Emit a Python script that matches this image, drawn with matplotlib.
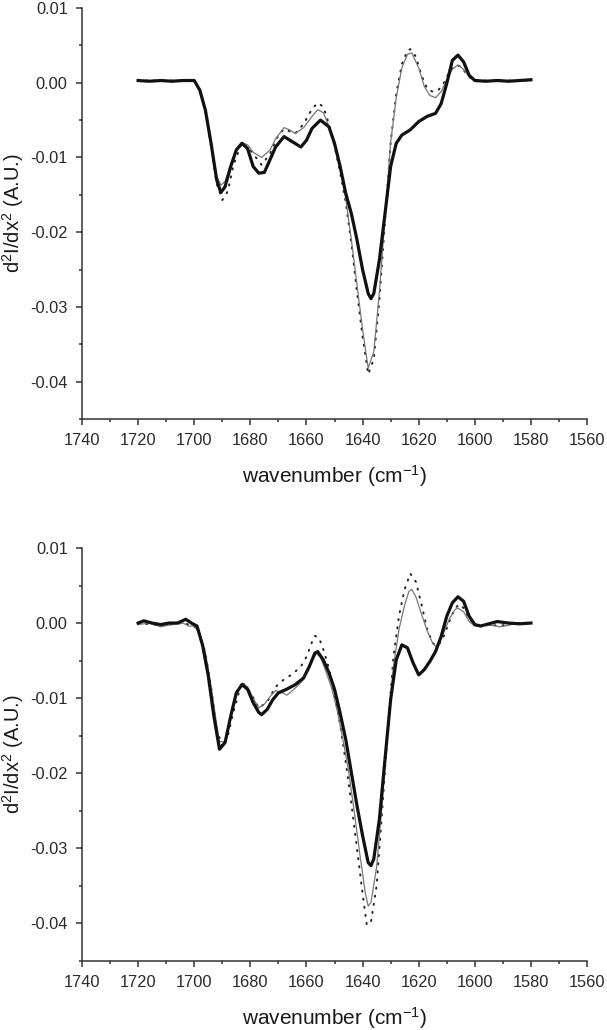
import matplotlib
matplotlib.use("Agg")
import matplotlib.pyplot as plt
from matplotlib.ticker import MultipleLocator, FormatStrFormatter

plt.rcParams['font.family'] = ['Liberation Sans', 'DejaVu Sans']
plt.rcParams['mathtext.default'] = 'regular'
plt.rcParams['axes.unicode_minus'] = False

# ---- top panel data (wavenumber, d2I/dx2) ----
top_thick_x = [1720, 1716, 1712, 1708, 1704, 1700, 1698, 1696, 1694, 1692, 1690.5, 1689, 1687, 1685,
               1683, 1681, 1679, 1677, 1675, 1673, 1671, 1668, 1665, 1662, 1660, 1658, 1655, 1652,
               1650, 1648, 1646, 1644, 1642, 1640, 1638, 1637, 1636, 1634, 1632, 1630, 1628, 1626,
               1623, 1620, 1617, 1614, 1612, 1610, 1608, 1606, 1604, 1602, 1600, 1596, 1592, 1588,
               1584, 1580]
top_thick_y = [0.0003, 0.0002, 0.0003, 0.0002, 0.0003, 0.0003, -0.001, -0.0037, -0.0081, -0.013,
               -0.0147, -0.0139, -0.0112, -0.009, -0.0081, -0.0088, -0.0112, -0.0121, -0.012,
               -0.0103, -0.0086, -0.0072, -0.0079, -0.0086, -0.0077, -0.0061, -0.005, -0.0059,
               -0.0081, -0.0112, -0.0148, -0.0175, -0.021, -0.025, -0.0282, -0.0289, -0.0282,
               -0.0237, -0.0175, -0.0112, -0.0081, -0.007, -0.0063, -0.0052, -0.0045, -0.0041,
               -0.0028, -0.0001, 0.003, 0.0037, 0.0028, 0.001, 0.0003, 0.0002, 0.0003, 0.0002,
               0.0003, 0.0004]

top_thin_x = [1720, 1700, 1698, 1696, 1694, 1692, 1690.5, 1689, 1687, 1685, 1683, 1681, 1679, 1676,
              1673, 1671, 1668, 1666, 1664, 1661, 1658, 1656, 1654, 1652, 1650, 1648, 1646, 1644,
              1642, 1640, 1638, 1636, 1634, 1632, 1630, 1628, 1626, 1624, 1622.5, 1620, 1618, 1616,
              1614, 1612, 1610, 1608, 1606, 1604, 1602, 1600, 1590, 1580]
top_thin_y = [0.0003, 0.0003, -0.001, -0.0037, -0.0080, -0.0125, -0.0137, -0.0132, -0.011, -0.0088,
              -0.0080, -0.0083, -0.0093, -0.0100, -0.0090, -0.0075, -0.0060, -0.0063, -0.0068,
              -0.0060, -0.0045, -0.0036, -0.0040, -0.0058, -0.0080, -0.0110, -0.0155, -0.0210,
              -0.0270, -0.0330, -0.0382, -0.0360, -0.0280, -0.0180, -0.0080, -0.0020, 0.0020,
              0.0038, 0.0040, 0.0020, -0.0005, -0.0017, -0.0020, -0.0012, 0.0004, 0.0018, 0.0024,
              0.0018, 0.0008, 0.0003, 0.0003, 0.0003]

top_dot_x = [1720, 1700, 1698, 1696, 1694, 1692, 1690, 1688, 1686, 1683, 1680, 1676, 1673, 1670,
             1668, 1664, 1661, 1658, 1656, 1654, 1652, 1650, 1648, 1646, 1644, 1642, 1640, 1638,
             1636, 1634, 1632, 1630, 1628, 1626, 1624, 1623, 1621, 1619, 1617, 1615, 1613, 1611,
             1609, 1607, 1605, 1603, 1601, 1598, 1590, 1580]
top_dot_y = [0.0003, 0.0003, -0.001, -0.004, -0.0085, -0.0135, -0.0157, -0.0145, -0.011, -0.0080,
             -0.0090, -0.0110, -0.0095, -0.0070, -0.0062, -0.0068, -0.0055, -0.0035, -0.0027,
             -0.0032, -0.0055, -0.0085, -0.0120, -0.0160, -0.0215, -0.0280, -0.0340, -0.0390,
             -0.0370, -0.0290, -0.0185, -0.0080, -0.0015, 0.0025, 0.0043, 0.0045, 0.0035, 0.0010,
             -0.0008, -0.0012, -0.0010, 0.0000, 0.0015, 0.0023, 0.0022, 0.0012, 0.0004, 0.0003,
             0.0003, 0.0003]

# ---- bottom panel data ----
bot_thick_x = [1720, 1718, 1715, 1712, 1709, 1706, 1703, 1701, 1699, 1697, 1695, 1693, 1691, 1689,
               1687, 1685, 1683, 1681, 1679, 1677, 1676, 1674, 1672, 1670, 1667, 1664, 1661, 1659,
               1657, 1656, 1654, 1652, 1650, 1648, 1646, 1644, 1642, 1640, 1638, 1637, 1636, 1634,
               1632, 1630, 1628, 1626, 1624, 1622, 1620, 1618, 1616, 1614, 1612, 1610, 1608, 1606,
               1604, 1602, 1600, 1598, 1596, 1592, 1588, 1584, 1580]
bot_thick_y = [0.0000, 0.0003, 0.0000, -0.0002, 0.0000, 0.0000, 0.0005, 0.0000, -0.0004, -0.0030,
               -0.0070, -0.0124, -0.0168, -0.0159, -0.0124, -0.0093, -0.0082, -0.0088, -0.0106,
               -0.0119, -0.0122, -0.0115, -0.0102, -0.0093, -0.0088, -0.0082, -0.0073, -0.0058,
               -0.0040, -0.0038, -0.0049, -0.0066, -0.0088, -0.0120, -0.0155, -0.0199, -0.0243,
               -0.0283, -0.0319, -0.0323, -0.0314, -0.0261, -0.0181, -0.0102, -0.0049, -0.0029,
               -0.0033, -0.0053, -0.0069, -0.0062, -0.0051, -0.0038, -0.0018, 0.0009, 0.0027,
               0.0035, 0.0029, 0.0009, -0.0002, -0.0004, -0.0002, 0.0002, 0.0000, -0.0001, 0.0000]

bot_thin_x = [1720, 1716, 1712, 1708, 1704, 1702, 1700, 1698, 1696, 1694, 1692, 1691, 1689, 1687,
              1685, 1683, 1681, 1679, 1677, 1675, 1673, 1671, 1669, 1667, 1665, 1663, 1661, 1659,
              1658, 1656.5, 1655, 1653, 1651, 1649, 1647, 1645, 1643, 1641, 1639, 1638, 1637, 1635,
              1633, 1631, 1629, 1627, 1625, 1623.5, 1622.5, 1621, 1619, 1617, 1615, 1614, 1613,
              1611, 1609, 1607, 1606, 1604, 1602, 1600, 1597, 1594, 1591, 1588, 1585, 1580]
bot_thin_y = [-0.0002, 0.0000, -0.0005, -0.0002, 0.0000, -0.0004, -0.0004, -0.0015, -0.0040, -0.0085,
              -0.0135, -0.0158, -0.0158, -0.0125, -0.0093, -0.0080, -0.0085, -0.0100, -0.0113,
              -0.0108, -0.0098, -0.0090, -0.0092, -0.0096, -0.0090, -0.0083, -0.0075, -0.0058,
              -0.0050, -0.0040, -0.0046, -0.0065, -0.0087, -0.0117, -0.0155, -0.0197, -0.0250,
              -0.0307, -0.0360, -0.0377, -0.0372, -0.0325, -0.0240, -0.0140, -0.0058, -0.0008,
              0.0024, 0.0042, 0.0045, 0.0035, 0.0012, -0.0010, -0.0027, -0.0031, -0.0028, -0.0012,
              0.0006, 0.0018, 0.0020, 0.0015, 0.0002, -0.0004, -0.0003, -0.0003, -0.0005, -0.0003,
              0.0000, 0.0000]

bot_dot_x = [1720, 1712, 1704, 1700, 1698, 1696, 1694, 1692, 1690, 1688, 1686, 1683, 1680, 1677,
             1674, 1671, 1668, 1665, 1662, 1660, 1658, 1657, 1655.5, 1654, 1652, 1650, 1648, 1646,
             1644, 1642, 1640, 1638.5, 1637, 1635, 1633, 1631, 1629, 1627, 1625, 1623, 1621, 1619,
             1617, 1615, 1613, 1611, 1609, 1607, 1605.5, 1604, 1602, 1600, 1595, 1590, 1585, 1580]
bot_dot_y = [0.0000, -0.0003, 0.0000, -0.0004, -0.0015, -0.0040, -0.0085, -0.0140, -0.0165, -0.0150,
             -0.0118, -0.0078, -0.0092, -0.0113, -0.0105, -0.0085, -0.0075, -0.0068, -0.0058,
             -0.0045, -0.0025, -0.0017, -0.0020, -0.0035, -0.0060, -0.0095, -0.0135, -0.0185,
             -0.0240, -0.0300, -0.0360, -0.0402, -0.0398, -0.0350, -0.0250, -0.0140, -0.0045,
             0.0010, 0.0045, 0.0066, 0.0055, 0.0025, -0.0008, -0.0027, -0.0030, -0.0017, 0.0003,
             0.0020, 0.0025, 0.0020, 0.0006, -0.0002, -0.0003, -0.0003, 0.0000, 0.0000]

yticks = [-0.04, -0.03, -0.02, -0.01, 0.00, 0.01]
xticks = [1740, 1720, 1700, 1680, 1660, 1640, 1620, 1600, 1580, 1560]

fig = plt.figure(figsize=(6.07, 10.30), dpi=100)
ax_top = fig.add_axes([0.1351, 0.5932, 0.832, 0.399])
ax_bot = fig.add_axes([0.1351, 0.0670, 0.832, 0.401])

panels = [
    (ax_top, top_thick_x, top_thick_y, top_thin_x, top_thin_y, top_dot_x, top_dot_y),
    (ax_bot, bot_thick_x, bot_thick_y, bot_thin_x, bot_thin_y, bot_dot_x, bot_dot_y),
]

for ax, tkx, tky, tnx, tny, dx, dy in panels:
    # dotted curve first, then thin grey, thick black on top
    ax.plot(dx, dy, color='#222222', lw=1.4, linestyle=(0, (0.6, 3.6)), dash_capstyle='round')
    ax.plot(tnx, tny, color='#777777', lw=0.9)
    ax.plot(tkx, tky, color='#111111', lw=2.3, solid_joinstyle='round')

    ax.set_xlim(1740, 1560)
    ax.set_ylim(-0.045, 0.01)
    ax.set_xticks(xticks)
    ax.set_yticks(yticks)
    ax.xaxis.set_minor_locator(MultipleLocator(10))
    ax.yaxis.set_minor_locator(MultipleLocator(0.005))
    ax.yaxis.set_major_formatter(FormatStrFormatter('%.2f'))

    for side in ['top', 'right']:
        ax.spines[side].set_visible(False)
    for side in ['left', 'bottom']:
        ax.spines[side].set_color('#333333')
        ax.spines[side].set_linewidth(1.1)

    ax.tick_params(which='major', direction='out', length=4.3, width=1.1, pad=6,
                   colors='#333333', labelsize=11.8)
    ax.tick_params(which='minor', direction='out', length=2.3, width=1.1, colors='#333333')
    for lbl in ax.get_xticklabels() + ax.get_yticklabels():
        lbl.set_color('#2a2a2a')

    ax.set_xlabel('wavenumber (cm$^{-1}$)', fontsize=15, color='#1a1a1a')
    ax.set_ylabel('d$^2$I/dx$^2$ (A.U.)', fontsize=14.5, color='#1a1a1a')
    ax.xaxis.set_label_coords(0.5, -0.108)
    ax.yaxis.set_label_coords(-0.11, 0.5)

fig.savefig('out.png', dpi=100)
